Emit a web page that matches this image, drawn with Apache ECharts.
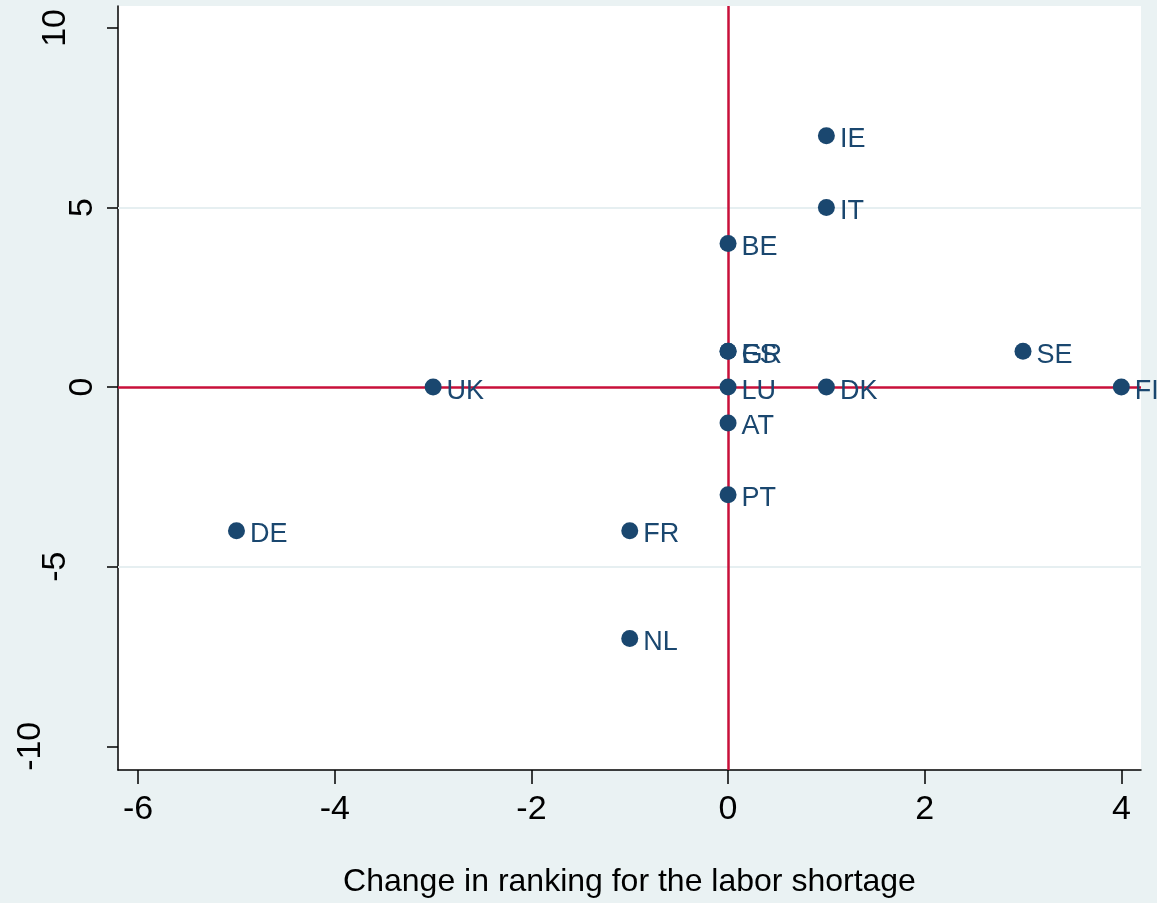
<!DOCTYPE html>
<html>
<head>
<meta charset="utf-8">
<script src="https://cdn.jsdelivr.net/npm/echarts@6/dist/echarts.min.js"></script>
<style>
html,body{margin:0;padding:0;background:#eaf2f3;}
#chart{width:1157px;height:903px;}
</style>
</head>
<body>
<div id="chart"></div>
<script>
const countries = ['IE','IT','BE','ES','GR','SE','UK','LU','DK','FI','AT','PT','DE','FR','NL'];
const xValues   = [1, 1, 0, 0, 0, 3, -3, 0, 1, 4, 0, 0, -5, -1, -1];
const yValues   = [7, 5, 4, 1, 1, 1, 0, 0, 0, 0, -1, -3, -4, -4, -7];
const xTicks = [-6, -4, -2, 0, 2, 4];
const yTicks = [-10, -5, 0, 5, 10];
const yGridLines = [-5, 5];
const refX = 0;
const refY = 0;
const xTitle = 'Change in ranking for the labor shortage';

const points = countries.map((c, i) => ({ name: c, value: [xValues[i], yValues[i]] }));

const chart = echarts.init(document.getElementById('chart'));
const FONT = '"Liberation Sans", Arial, sans-serif';
chart.setOption({
  backgroundColor: '#eaf2f3',
  animation: false,
  grid: { left: 118, top: 6, right: 16, bottom: 131, show: true, backgroundColor: '#ffffff', borderWidth: 0 },
  xAxis: {
    type: 'value', min: -6.205, max: 4.2,
    name: xTitle, nameLocation: 'middle', nameGap: 96,
    nameTextStyle: { fontFamily: FONT, fontSize: 32, color: '#000' },
    axisLine: { show: true, onZero: false, lineStyle: { color: '#000', width: 1.5 } },
    axisTick: { show: true, length: 14, customValues: xTicks, lineStyle: { color: '#000', width: 1.5 } },
    axisLabel: { customValues: xTicks, margin: 23, fontFamily: FONT, fontSize: 34, color: '#000' },
    splitLine: { show: false }
  },
  yAxis: {
    type: 'value', min: -10.66, max: 10.61,
    axisLine: { show: true, onZero: false, lineStyle: { color: '#000', width: 1.5 } },
    axisTick: { show: true, length: 11, customValues: yTicks, lineStyle: { color: '#000', width: 1.5 } },
    axisLabel: {
      customValues: yTicks, rotate: 90, margin: 18, fontFamily: FONT, fontSize: 34, color: '#000',
      formatter: function (v) {
        const s = String(v);
        return '{l' + s.length + '|' + s + '}';
      },
      rich: {
        l1: { fontFamily: FONT, fontSize: 34, color: '#000', padding: [0, 0, 0, 0] },
        l2: { fontFamily: FONT, fontSize: 34, color: '#000', padding: [0, 0, 27, 0] },
        l3: { fontFamily: FONT, fontSize: 34, color: '#000', padding: [0, 0, 52, 0] }
      }
    },
    splitLine: { show: false }
  },
  series: [
    {
      type: 'scatter', data: [], z: 1, silent: true,
      markLine: {
        silent: true, symbol: ['none', 'none'], label: { show: false }, animation: false,
        emphasis: { disabled: true },
        lineStyle: { color: '#e6eff1', width: 2, type: 'solid' },
        data: yGridLines.map(v => ({ yAxis: v }))
      }
    },
    {
      type: 'scatter', data: [], z: 2, silent: true,
      markLine: {
        silent: true, symbol: ['none', 'none'], label: { show: false }, animation: false,
        emphasis: { disabled: true },
        lineStyle: { color: '#c8103a', width: 2.5, type: 'solid', opacity: 1 },
        data: [{ xAxis: refX }, { yAxis: refY }]
      }
    },
    {
      type: 'scatter', z: 5, data: points,
      symbol: 'circle', symbolSize: 17,
      itemStyle: { color: '#1a476f', opacity: 1 },
      label: {
        show: true, position: [22, 12.5], align: 'left', verticalAlign: 'middle',
        formatter: p => p.name,
        fontFamily: FONT, fontSize: 27, color: '#1a476f', opacity: 1
      },
      labelLayout: { hideOverlap: false }
    }
  ]
});
</script>
</body>
</html>
